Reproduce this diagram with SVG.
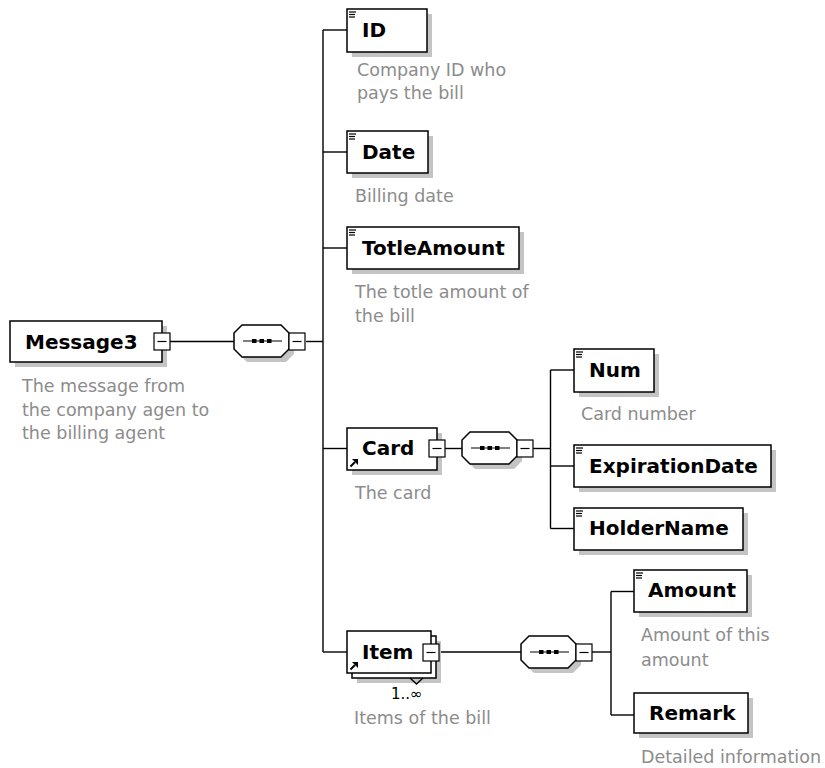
<svg xmlns="http://www.w3.org/2000/svg" xmlns:xlink="http://www.w3.org/1999/xlink" width="825" height="768" viewBox="0 0 825 768">
  <style>
    .box { fill: #ffffff; stroke: #000000; stroke-width: 1.5; }
    .shadow { fill: #c4c4c4; stroke: none; }
    .wire { fill: none; stroke: #000000; stroke-width: 1.4; }
    .mini { fill: #ffffff; stroke: #000000; stroke-width: 1.2; }
    .tick { stroke: #000000; stroke-width: 1.2; }
    .name { font-family: "DejaVu Sans", Verdana, sans-serif; font-weight: bold; font-size: 20px; fill: #000000; }
    .desc { font-family: "DejaVu Sans", Verdana, sans-serif; font-size: 17.5px; fill: #8c8c8c; }
    .occurs { font-family: "DejaVu Sans", Verdana, sans-serif; font-size: 15px; fill: #000000; }
  </style>
  <defs>
    <!-- three-line "simple content" mark shown in the top-left corner of an element -->
    <g id="lines">
      <line x1="0" y1="0.5" x2="7" y2="0.5" class="tick" stroke-width="1.2"/>
      <line x1="0" y1="3" x2="6" y2="3" class="tick" stroke-width="1.2"/>
      <line x1="0" y1="5.5" x2="6" y2="5.5" class="tick" stroke-width="1.2"/>
    </g>
    <!-- reference arrow shown in the bottom-left corner of a global element ref -->
    <g id="refArrow">
      <line x1="0.5" y1="7.5" x2="5" y2="3" stroke="#000" stroke-width="2"/>
      <polygon points="2,0 8,0 8,6" fill="#000"/>
    </g>
    <!-- collapse box with a minus sign -->
    <g id="minus">
      <rect x="0" y="0" width="16" height="17" class="mini"/>
      <line x1="3.5" y1="8.5" x2="12.5" y2="8.5" class="tick"/>
    </g>
    <!-- sequence compositor: octagon with dotted line, plus its collapse box -->
    <g id="sequence">
      <path d="M13,5 H52 L60,13 V29 L52,37 H13 L5,29 V13 Z" class="shadow"/>
      <path d="M8,0 H47 L55,8 V24 L47,32 H8 L0,24 V8 Z" class="box" stroke-width="1.3"/>
      <line x1="9" y1="16" x2="48" y2="16" class="tick" stroke-width="1.3"/>
      <rect x="18" y="14" width="4.5" height="4" fill="#000"/>
      <rect x="25.5" y="14" width="4.5" height="4" fill="#000"/>
      <rect x="33" y="14" width="4.5" height="4" fill="#000"/>
      <use xlink:href="#minus" x="55" y="8"/>
    </g>
  </defs>

  <rect width="825" height="768" fill="#ffffff"/>

  <!-- connectors -->
  <g id="connectors" class="wire">
    <line x1="169" y1="341.5" x2="234" y2="341.5"/>
    <line x1="306" y1="341.5" x2="323" y2="341.5"/>
    <line x1="323" y1="30" x2="323" y2="652"/>
    <line x1="323" y1="30" x2="347" y2="30"/>
    <line x1="323" y1="152" x2="347" y2="152"/>
    <line x1="323" y1="248" x2="347" y2="248"/>
    <line x1="323" y1="448.5" x2="347" y2="448.5"/>
    <line x1="323" y1="652" x2="347" y2="652"/>

    <line x1="445" y1="448.5" x2="462" y2="448.5"/>
    <line x1="533" y1="448.5" x2="550.5" y2="448.5"/>
    <line x1="550.5" y1="370" x2="550.5" y2="528.5"/>
    <line x1="550.5" y1="370" x2="574" y2="370"/>
    <line x1="550.5" y1="466" x2="574" y2="466"/>
    <line x1="550.5" y1="528.5" x2="574" y2="528.5"/>

    <line x1="439" y1="652" x2="521" y2="652"/>
    <line x1="592" y1="652" x2="611" y2="652"/>
    <line x1="611" y1="591.5" x2="611" y2="715"/>
    <line x1="611" y1="591.5" x2="634" y2="591.5"/>
    <line x1="611" y1="715" x2="634" y2="715"/>
  </g>

  <!-- root element -->
  <g id="message3">
    <rect x="15" y="326" width="152" height="41" class="shadow"/>
    <rect x="10" y="321" width="152" height="41" class="box"/>
    <text x="25" y="349" class="name">Message3</text>
    <use xlink:href="#minus" x="154" y="333"/>
    <text class="desc"><tspan x="22" y="392">The message from</tspan><tspan x="22" y="415.5">the company agen to</tspan><tspan x="22" y="439">the billing agent</tspan></text>
  </g>

  <g id="seq-message3">
    <use xlink:href="#sequence" x="234" y="325"/>
  </g>

  <g id="id">
    <rect x="352" y="14" width="80" height="43" class="shadow"/>
    <rect x="347" y="9" width="80" height="43" class="box"/>
    <use xlink:href="#lines" x="349" y="11.5"/>
    <text x="362" y="37" class="name">ID</text>
    <text class="desc"><tspan x="357" y="76">Company ID who</tspan><tspan x="357" y="99">pays the bill</tspan></text>
  </g>

  <g id="date">
    <rect x="352" y="136" width="81" height="42" class="shadow"/>
    <rect x="347" y="131" width="81" height="42" class="box"/>
    <use xlink:href="#lines" x="349" y="133.5"/>
    <text x="362" y="159" class="name">Date</text>
    <text x="355" y="201.5" class="desc">Billing date</text>
  </g>

  <g id="totleamount">
    <rect x="352" y="232" width="172" height="42" class="shadow"/>
    <rect x="347" y="227" width="172" height="42" class="box"/>
    <use xlink:href="#lines" x="349" y="229.5"/>
    <text x="362" y="255" class="name">TotleAmount</text>
    <text class="desc"><tspan x="355" y="297.5">The totle amount of</tspan><tspan x="355" y="322">the bill</tspan></text>
  </g>

  <g id="card">
    <rect x="352" y="433" width="90" height="42" class="shadow"/>
    <rect x="347" y="428" width="90" height="42" class="box"/>
    <use xlink:href="#refArrow" x="350" y="459"/>
    <text x="362" y="455" class="name">Card</text>
    <use xlink:href="#minus" x="429" y="440"/>
    <text x="355" y="499" class="desc">The card</text>
  </g>

  <g id="seq-card">
    <use xlink:href="#sequence" x="462" y="432"/>
  </g>

  <g id="num">
    <rect x="579" y="354" width="80" height="43" class="shadow"/>
    <rect x="574" y="349" width="80" height="43" class="box"/>
    <use xlink:href="#lines" x="576" y="351.5"/>
    <text x="589" y="377" class="name">Num</text>
    <text x="581" y="420" class="desc">Card number</text>
  </g>

  <g id="expirationdate">
    <rect x="579" y="450" width="197" height="42" class="shadow"/>
    <rect x="574" y="445" width="197" height="42" class="box"/>
    <use xlink:href="#lines" x="576" y="447.5"/>
    <text x="589" y="473" class="name">ExpirationDate</text>
  </g>

  <g id="holdername">
    <rect x="579" y="513" width="169" height="42" class="shadow"/>
    <rect x="574" y="508" width="169" height="42" class="box"/>
    <use xlink:href="#lines" x="576" y="510.5"/>
    <text x="589" y="535" class="name">HolderName</text>
  </g>

  <g id="item">
    <rect x="357" y="641" width="84" height="42" class="shadow"/>
    <rect x="352" y="636" width="84" height="42" class="box"/>
    <rect x="347" y="631" width="84" height="42" class="box"/>
    <polyline points="410,678 416.5,684 423,678" class="wire" stroke-width="1.2"/>
    <use xlink:href="#refArrow" x="350" y="662"/>
    <text x="362" y="659" class="name">Item</text>
    <use xlink:href="#minus" x="423" y="644"/>
    <text x="391" y="699" class="occurs">1..∞</text>
    <text x="354" y="724" class="desc">Items of the bill</text>
  </g>

  <g id="seq-item">
    <use xlink:href="#sequence" x="521" y="636"/>
  </g>

  <g id="amount">
    <rect x="639" y="575" width="113" height="42" class="shadow"/>
    <rect x="634" y="570" width="113" height="42" class="box"/>
    <use xlink:href="#lines" x="636" y="572.5"/>
    <text x="648" y="597" class="name">Amount</text>
    <text class="desc"><tspan x="641" y="641">Amount of this</tspan><tspan x="641" y="665.5">amount</tspan></text>
  </g>

  <g id="remark">
    <rect x="639" y="698" width="114" height="40" class="shadow"/>
    <rect x="634" y="693" width="114" height="40" class="box"/>
    <text x="649" y="720" class="name">Remark</text>
    <text x="641" y="763" class="desc">Detailed information</text>
  </g>
</svg>
